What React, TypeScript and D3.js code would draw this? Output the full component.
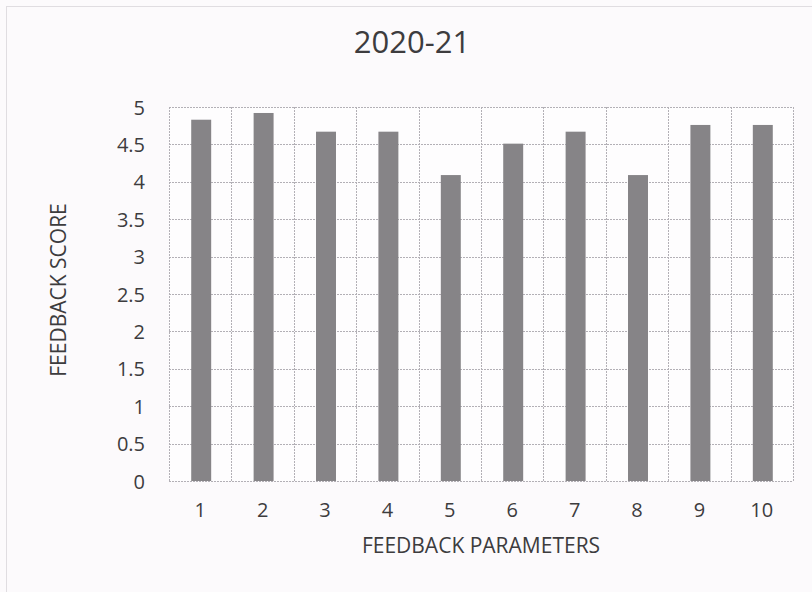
import React, { useRef, useEffect } from 'react';
import * as d3 from 'd3';

// Feedback scores per parameter (2020-21)
const parameters = ['1', '2', '3', '4', '5', '6', '7', '8', '9', '10'];
const scores = [4.83, 4.92, 4.67, 4.67, 4.09, 4.51, 4.67, 4.09, 4.76, 4.76];
const yTicks = [0, 0.5, 1, 1.5, 2, 2.5, 3, 3.5, 4, 4.5, 5];

const chartTitle = '2020-21';
const xTitle = 'FEEDBACK PARAMETERS';
const yTitle = 'FEEDBACK SCORE';

const width = 812;
const height = 592;
const margin = { top: 107, right: 19, bottom: 111, left: 169 };
const font = '"Open Sans", "Lato", sans-serif';
const textColor = '#3d3c3e';

export default function App() {
  const svgRef = useRef<SVGSVGElement>(null);

  useEffect(() => {
    if (!svgRef.current) return;
    const svg = d3.select(svgRef.current);
    svg.selectAll('*').remove();

    const innerW = width - margin.left - margin.right;
    const innerH = height - margin.top - margin.bottom;

    const x = d3.scaleBand<string>().domain(parameters).range([0, innerW]).padding(0);
    const y = d3.scaleLinear().domain([0, 5]).range([innerH, 0]);

    // background + outer dotted frame
    svg.append('rect')
      .attr('width', width)
      .attr('height', height)
      .attr('fill', '#fcfafc');

    svg.append('rect')
      .attr('x', 6.5)
      .attr('y', 6.5)
      .attr('width', width + 20)
      .attr('height', height + 20)
      .attr('fill', 'none')
      .attr('stroke', '#c4c0c6')
      .attr('stroke-width', 1)
      .attr('stroke-dasharray', '1,1');

    svg.append('text')
      .attr('x', 412)
      .attr('y', 41)
      .attr('text-anchor', 'middle')
      .attr('dominant-baseline', 'central')
      .attr('fill', textColor)
      .attr('font-family', font)
      .attr('font-size', 31)
      .text(chartTitle);

    const g = svg.append('g')
      .attr('transform', `translate(${margin.left},${margin.top})`);

    // plot area
    g.append('rect')
      .attr('width', innerW)
      .attr('height', innerH)
      .attr('fill', '#fefdfe');

    // horizontal grid
    g.selectAll('.h-grid')
      .data(yTicks)
      .enter()
      .append('line')
      .attr('class', 'h-grid')
      .attr('x1', 0)
      .attr('x2', innerW)
      .attr('y1', d => Math.round(y(d)) + 0.5)
      .attr('y2', d => Math.round(y(d)) + 0.5)
      .attr('stroke', '#b3b0b6')
      .attr('stroke-width', 1)
      .attr('stroke-dasharray', '2,1');

    // vertical grid at category boundaries
    const boundaries = parameters.map(p => x(p) as number).concat([innerW]);
    g.selectAll('.v-grid')
      .data(boundaries)
      .enter()
      .append('line')
      .attr('class', 'v-grid')
      .attr('x1', d => Math.round(d) + 0.5)
      .attr('x2', d => Math.round(d) + 0.5)
      .attr('y1', 0)
      .attr('y2', innerH)
      .attr('stroke', '#b3b0b6')
      .attr('stroke-width', 1)
      .attr('stroke-dasharray', '2,1');

    // bars
    const barW = x.bandwidth() * 0.32;
    g.selectAll('.bar')
      .data(scores)
      .enter()
      .append('rect')
      .attr('class', 'bar')
      .attr('x', (d, i) => (x(parameters[i]) as number) + x.bandwidth() / 2 - barW / 2 + 1)
      .attr('y', d => y(d))
      .attr('width', barW)
      .attr('height', d => innerH - y(d))
      .attr('fill', '#868487');

    // y tick labels
    g.selectAll('.y-label')
      .data(yTicks)
      .enter()
      .append('text')
      .attr('class', 'y-label')
      .attr('x', -24)
      .attr('y', d => y(d))
      .attr('text-anchor', 'end')
      .attr('dominant-baseline', 'central')
      .attr('fill', textColor)
      .attr('font-family', font)
      .attr('font-size', 20)
      .text(d => String(d));

    // x tick labels
    g.selectAll('.x-label')
      .data(parameters)
      .enter()
      .append('text')
      .attr('class', 'x-label')
      .attr('x', d => (x(d) as number) + x.bandwidth() / 2)
      .attr('y', innerH + 28)
      .attr('text-anchor', 'middle')
      .attr('dominant-baseline', 'central')
      .attr('fill', textColor)
      .attr('font-family', font)
      .attr('font-size', 20)
      .text(d => d);

    // axis titles
    g.append('text')
      .attr('x', innerW / 2)
      .attr('y', innerH + 64)
      .attr('text-anchor', 'middle')
      .attr('dominant-baseline', 'central')
      .attr('fill', textColor)
      .attr('font-family', font)
      .attr('font-size', 21)
      .text(xTitle);

    g.append('text')
      .attr('transform', `translate(${58 - margin.left},${290 - margin.top}) rotate(-90)`)
      .attr('text-anchor', 'middle')
      .attr('dominant-baseline', 'central')
      .attr('fill', textColor)
      .attr('font-family', font)
      .attr('font-size', 21)
      .text(yTitle);
  }, []);

  return (
    <div style={{ position: 'absolute', left: 0, top: 0, width, height }}>
      <svg ref={svgRef} width={width} height={height} style={{ display: 'block' }} />
    </div>
  );
}
